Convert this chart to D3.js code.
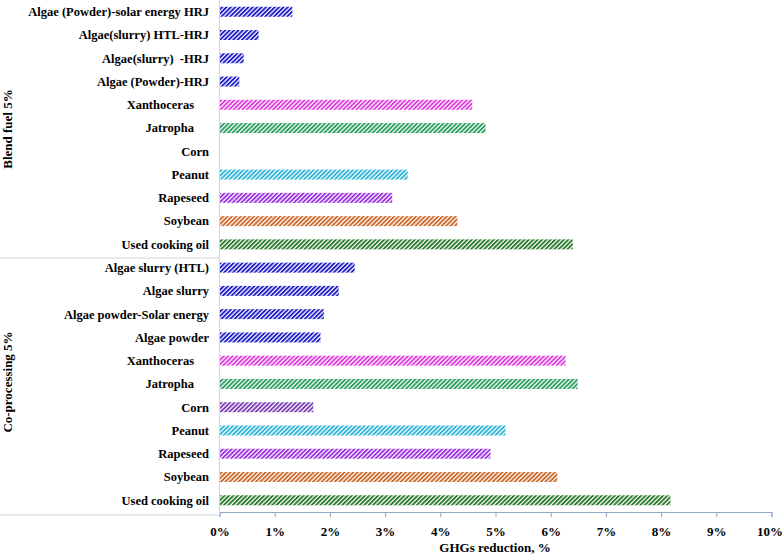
<!DOCTYPE html>
<html>
<head>
<meta charset="utf-8">
<script src="https://cdn.jsdelivr.net/npm/d3@7"></script>
<style>
  body { margin: 0; background: #fff; }
  text { font-family: "Liberation Serif", "Times New Roman", serif; font-weight: bold; fill: #000; }
</style>
</head>
<body>
<div id="chart"></div>
<script>
const blendLabels = ["Algae (Powder)-solar energy HRJ", "Algae(slurry) HTL-HRJ", "Algae(slurry)  -HRJ", "Algae (Powder)-HRJ",
  "Xanthoceras", "Jatropha", "Corn", "Peanut", "Rapeseed", "Soybean", "Used cooking oil"];
const blendValues = [1.31, 0.70, 0.43, 0.35, 4.57, 4.81, 0, 3.40, 3.12, 4.30, 6.39];

const coprocLabels = ["Algae slurry (HTL)", "Algae slurry", "Algae powder-Solar energy", "Algae powder",
  "Xanthoceras", "Jatropha", "Corn", "Peanut", "Rapeseed", "Soybean", "Used cooking oil"];
const coprocValues = [2.44, 2.15, 1.88, 1.82, 6.26, 6.48, 1.69, 5.17, 4.90, 6.11, 8.16];

const groups = ["Blend fuel 5%", "Co-processing 5%"];
const xTicks = [0, 1, 2, 3, 4, 5, 6, 7, 8, 9, 10];

const colorOf = {
  algae: "#1f1fc8", Xanthoceras: "#dd3ddd", Jatropha: "#2a9e62", Corn: "#7a3fb5",
  Peanut: "#2fb3d8", Rapeseed: "#9b30e0", Soybean: "#cc6a2c", "Used cooking oil": "#2c7a2c"
};
function barColor(label) {
  if (label.startsWith("Algae")) return colorOf.algae;
  return colorOf[label];
}

const rows = blendLabels.map((l, i) => ({ id: "b" + i, label: l, value: blendValues[i], group: 0 }))
  .concat(coprocLabels.map((l, i) => ({ id: "c" + i, label: l, value: coprocValues[i], group: 1 })));

const width = 783, height = 554;
const mLeft = 219.5, mRight = 771.5, mTop = 0, mBottom = 512;

const svg = d3.select("#chart").append("svg").attr("width", width).attr("height", height);

const x = d3.scaleLinear().domain([0, 10]).range([mLeft, mRight]);
const y = d3.scaleBand().domain(rows.map(d => d.id)).range([mTop, mBottom]).paddingInner(0.57).paddingOuter(0.29);

const defs = svg.append("defs");
const colors = Array.from(new Set(rows.map(d => barColor(d.label))));
colors.forEach((c, i) => {
  const p = defs.append("pattern")
    .attr("id", "hatch" + i)
    .attr("patternUnits", "userSpaceOnUse")
    .attr("width", 3.1).attr("height", 3.1)
    .attr("patternTransform", "rotate(45)");
  p.append("rect").attr("width", 3.1).attr("height", 3.1).attr("fill", "#fff");
  p.append("line").attr("x1", 0.9).attr("x2", 0.9).attr("y1", 0).attr("y2", 3.1)
    .attr("stroke", c).attr("stroke-width", 1.95);
});

svg.selectAll("rect.bar")
  .data(rows.filter(d => d.value > 0))
  .enter().append("rect")
  .attr("class", "bar")
  .attr("x", x(0) + 0.5)
  .attr("y", d => y(d.id))
  .attr("width", d => x(d.value) - x(0))
  .attr("height", y.bandwidth())
  .attr("fill", d => "url(#hatch" + colors.indexOf(barColor(d.label)) + ")");

// axes
const axisColor = "#8ea7c6";
const xAxis = svg.append("g").attr("transform", `translate(0,${mBottom})`)
  .call(d3.axisBottom(x).tickValues(xTicks).tickFormat(d => d + "%").tickSize(5).tickPadding(10));
xAxis.select(".domain").attr("stroke", axisColor);
xAxis.selectAll(".tick line").attr("stroke", axisColor);
xAxis.selectAll(".tick text").style("font-size", "13px").style("font-family", "Liberation Serif").style("font-weight", "bold")
  .attr("dx", d => d === 10 ? -2 : 0);

svg.append("line").attr("x1", mLeft).attr("x2", mLeft).attr("y1", 0).attr("y2", mBottom + 3)
  .attr("stroke", "#d0d6de");

// category labels
const midLabels = ["Xanthoceras", "Jatropha"];
const cats = svg.selectAll("text.cat")
  .data(rows)
  .enter().append("text")
  .attr("class", "cat")
  .attr("x", d => midLabels.includes(d.label) ? 194 : 209)
  .attr("y", d => y(d.id) + y.bandwidth() / 2)
  .attr("dy", "0.35em")
  .attr("text-anchor", "end")
  .style("font-size", "12.5px")
  .style("white-space", "pre")
  .text(d => d.label);

// the long top label is drawn narrower in the original
const first = cats.filter((d, i) => i === 0);
const w = first.node().getComputedTextLength();
const k = 181 / w;
first.attr("transform", `translate(${209 * (1 - k)},0) scale(${k},1)`);

// group separators
const sepY = [258, mBottom + 3];
svg.selectAll("line.sep").data(sepY).enter().append("line")
  .attr("x1", 0).attr("x2", mLeft).attr("y1", d => d).attr("y2", d => d)
  .attr("stroke", "#d0d6de");

// group labels
const groupCenters = [129, 382];
svg.selectAll("text.grp").data(groups).enter().append("text")
  .attr("class", "grp")
  .attr("transform", (d, i) => `translate(12,${groupCenters[i]}) rotate(-90)`)
  .attr("text-anchor", "middle")
  .style("font-size", "13px")
  .text(d => d);

svg.append("text")
  .attr("x", 495)
  .attr("y", 552)
  .attr("text-anchor", "middle")
  .style("font-size", "13px")
  .text("GHGs reduction, %");
</script>
</body>
</html>
